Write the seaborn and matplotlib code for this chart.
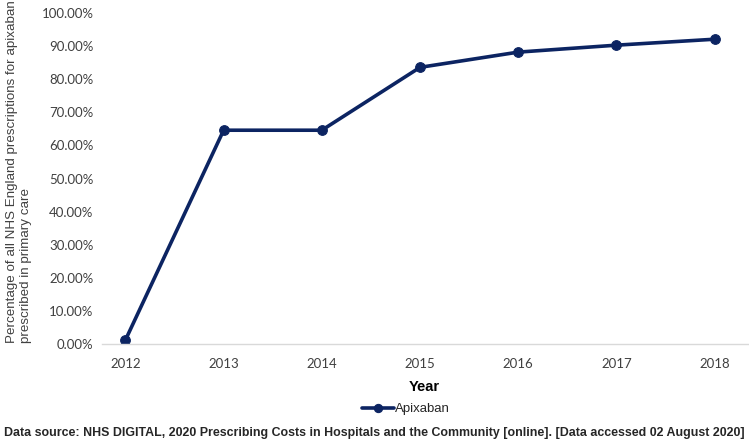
import matplotlib
matplotlib.use("Agg")
import matplotlib.pyplot as plt
from matplotlib.ticker import PercentFormatter
import seaborn as sns
import pandas as pd

# data
years = ["2012", "2013", "2014", "2015", "2016", "2017", "2018"]
apixaban = [0.012, 0.646, 0.646, 0.836, 0.882, 0.903, 0.921]

df = pd.DataFrame({"Year": years, "Apixaban": apixaban})

sns.set_style("white")
plt.rcParams["font.family"] = ["Lato", "DejaVu Sans"]

navy = "#0c2462"

fig = plt.figure(figsize=(7.49, 4.43), dpi=100)
ax = fig.add_axes([0.136, 0.2235, 0.864, 0.747])

sns.lineplot(data=df, x="Year", y="Apixaban", ax=ax, color=navy, linewidth=2.6,
             marker="o", markersize=7, markeredgecolor=navy, label="Apixaban")

ax.set_ylim(0, 1.0)
ax.set_yticks([i / 10 for i in range(11)])
ax.yaxis.set_major_formatter(PercentFormatter(1.0, decimals=2))
ax.set_xlim(-0.24, 6.35)

for s in ["top", "right", "left"]:
    ax.spines[s].set_visible(False)
ax.spines["bottom"].set_color("#d9d9d9")
ax.spines["bottom"].set_linewidth(1.0)
ax.tick_params(axis="both", length=0, labelsize=9.5, colors="#404040", pad=6)
ax.tick_params(axis="x", pad=10)

ax.set_xlabel("Year", fontsize=10.5, fontweight="bold", family="Liberation Sans",
              color="black")
ax.xaxis.set_label_coords(0.498, -0.11)
ax.set_ylabel("")
fig.text(19 / 749, 1 - 172 / 443,
         "Percentage of all NHS England prescriptions for apixaban\nprescribed in primary care",
         rotation=90, ha="center", va="center", multialignment="left",
         fontsize=9.6, family="Liberation Sans", color="#404040")

leg = ax.legend(loc="center", bbox_to_anchor=(0.47, -0.197), frameon=False,
                prop={"family": "Liberation Sans", "size": 9.5}, handlelength=2.4,
                handletextpad=0.1, markerscale=0.85)

fig.text(0.5, 0.022, "Data source: NHS DIGITAL, 2020 Prescribing Costs in Hospitals and the Community [online]. [Data accessed 02 August 2020]",
         ha="center", va="center", fontsize=8.95, fontweight="bold", family="Liberation Sans")

fig.savefig("out.png", dpi=100)
